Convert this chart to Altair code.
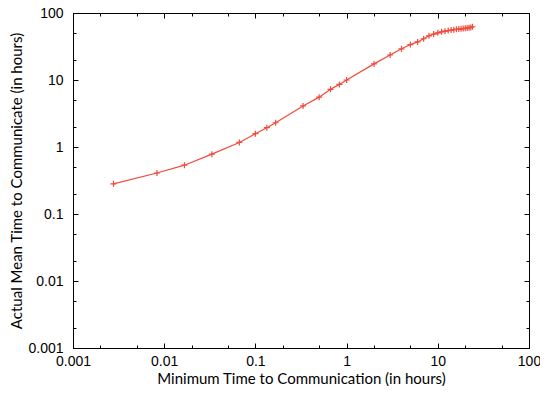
import altair as alt
import pandas as pd

# Minimum time to communication (hours)
min_time = [0.002778, 0.008333, 0.016667, 0.033333, 0.066667, 0.1, 0.133333, 0.166667,
            0.333333, 0.5, 0.666667, 0.833333, 1, 2, 3, 4, 5, 6, 7, 8, 9, 10,
            11, 12, 13, 14, 15, 16, 17, 18, 19, 20, 21, 22, 23, 24]
# Actual mean time to communicate (hours)
mean_time = [0.282, 0.409, 0.535, 0.782, 1.17, 1.58, 1.94, 2.30,
             4.10, 5.55, 7.27, 8.6, 10.0, 17.4, 23.6, 29.2, 33.8, 37.0, 41.3, 45.7, 48.4, 50.6,
             52.3, 53.6, 54.7, 55.6, 56.3, 57.0, 57.6, 58.1, 58.6, 59.1, 59.6, 60.2, 61.0, 62.3]

major_ticks = [0.001, 0.01, 0.1, 1, 10, 100]
minor_ticks = [0.002, 0.005, 0.02, 0.05, 0.2, 0.5, 2, 5, 20, 50]

df = pd.DataFrame({"x": min_time, "y": mean_time})

RED = "#f24a3c"
LABEL_FONT = "Liberation Sans"
TITLE_FONT = "Lato"

xs = alt.Scale(type="log", domain=[0.001, 100])
ys = alt.Scale(type="log", domain=[0.001, 100])


def ax(orient, values, size, labels=False, title=None, pad=0, tpad=0, tsize=15):
    kw = dict(orient=orient, values=values, tickSize=alt.ExprRef(str(-size)),
              tickColor="black", domainColor="black", grid=False, labels=labels)
    if labels:
        kw.update(labelFont=LABEL_FONT, labelFontSize=14, labelColor="black",
                  labelPadding=pad, labelFlush=False, labelOverlap=False,
                  labelExpr="datum.value >= 1 ? format(datum.value, 'd') : format(datum.value, '~g')")
    if title:
        kw.update(title=title, titleFont=TITLE_FONT, titleFontSize=tsize,
                  titleFontWeight="normal", titleColor="black", titlePadding=tpad)
    else:
        kw.update(title=None)
    return alt.Axis(**kw)


base = alt.Chart(df)

line = base.mark_line(color=RED, strokeWidth=1.2, clip=True).encode(
    x=alt.X("x:Q", scale=xs, axis=ax("bottom", major_ticks, 5, labels=True,
                                    title="Minimum Time to Communication (in hours)",
                                    pad=11, tpad=3, tsize=15)),
    y=alt.Y("y:Q", scale=ys, axis=ax("left", major_ticks, 5, labels=True,
                                    title="Actual Mean Time to Communicate (in hours)",
                                    pad=15, tpad=3, tsize=15)),
)

pts = base.mark_point(shape="M-1,0L1,0M0,-1L0,1", size=36, filled=False,
                      color=RED, strokeWidth=1.2, opacity=1).encode(
    x=alt.X("x:Q", scale=xs, axis=ax("top", major_ticks, 5)),
    y=alt.Y("y:Q", scale=ys, axis=ax("right", major_ticks, 5)),
)

minor1 = base.mark_point(opacity=0).encode(
    x=alt.X("x:Q", scale=xs, axis=ax("bottom", minor_ticks, 3)),
    y=alt.Y("y:Q", scale=ys, axis=ax("left", minor_ticks, 3)),
)

minor2 = base.mark_point(opacity=0).encode(
    x=alt.X("x:Q", scale=xs, axis=ax("top", minor_ticks, 3)),
    y=alt.Y("y:Q", scale=ys, axis=ax("right", minor_ticks, 3)),
)

chart = alt.layer(line, pts, minor1, minor2).resolve_axis(
    x="independent", y="independent"
).properties(
    width=456, height=335,
    autosize=alt.AutoSizeParams(type="none"),
    padding={"left": 65, "top": 5, "right": 11, "bottom": 38},
    background="white",
).configure_view(stroke="black", strokeWidth=1)

chart.save("out.html", embed_options={"renderer": "svg", "actions": False})
